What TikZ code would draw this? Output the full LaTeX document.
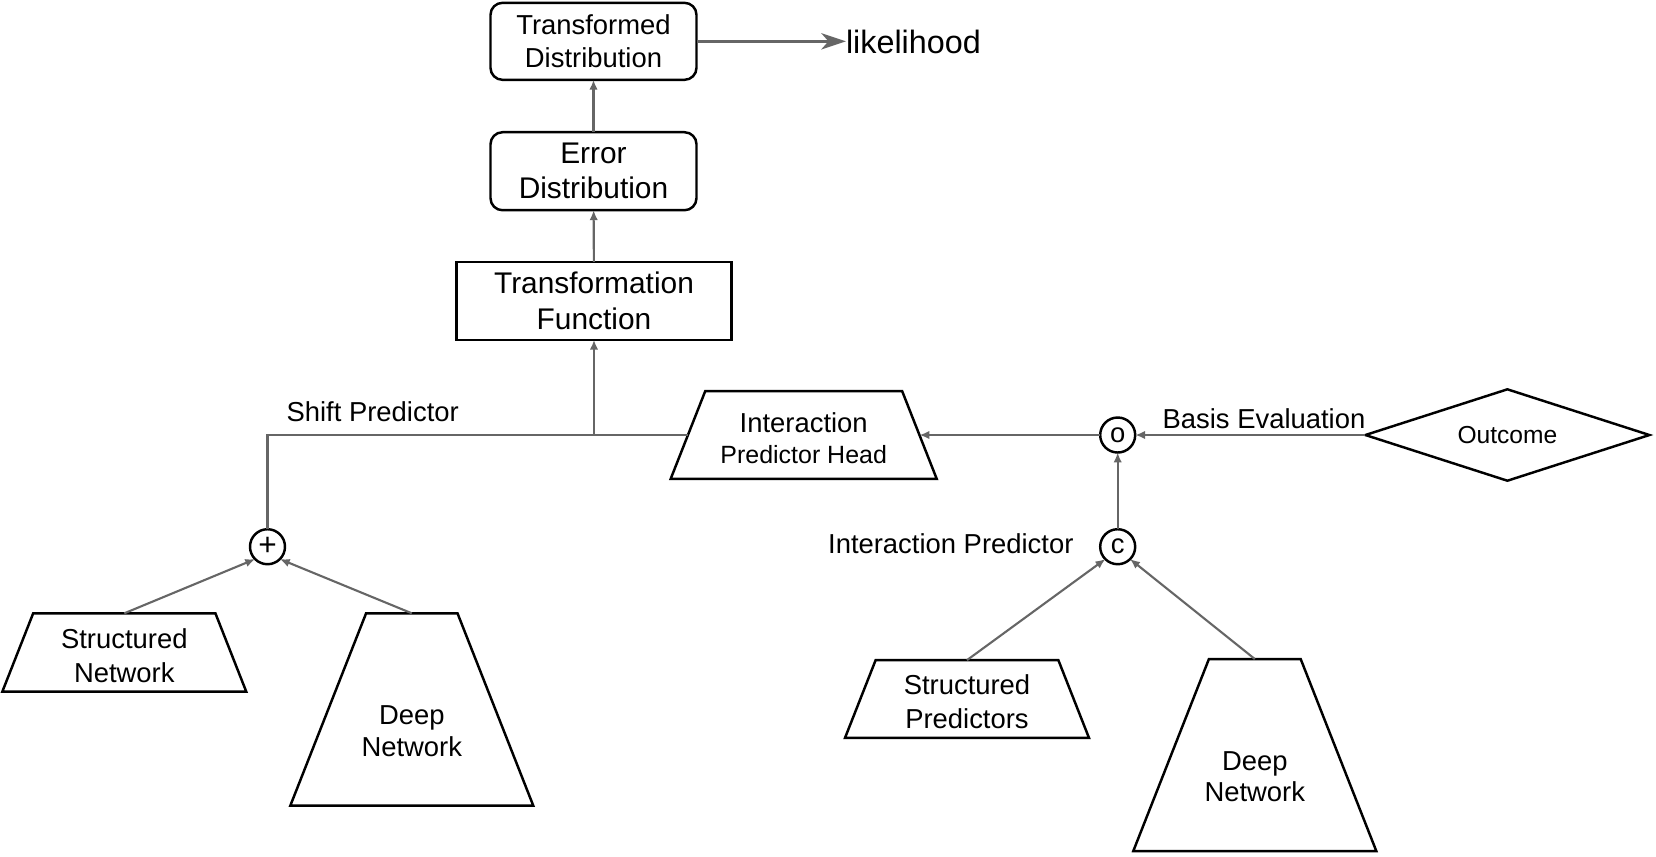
\documentclass[tikz,border=0pt]{standalone}
\usepackage{fontspec}
\setmainfont{Liberation Sans}
\usetikzlibrary{shapes.geometric, arrows.meta}
\definecolor{linegray}{HTML}{666666}
\begin{document}
\begin{tikzpicture}[font=\fontsize{7.8pt}{9.6pt}\selectfont, line join=miter,
    every node/.style={align=center, inner sep=0pt, outer sep=0pt},
    box/.style={draw, line width=0.7pt, minimum width=2.06cm, minimum height=0.77cm},
    trap/.style={draw, line width=0.7pt, trapezium, trapezium stretches body=true, trapezium angle=68.5, inner xsep=1pt, inner ysep=#1, minimum width=2.44cm},
    trap/.default=0.39cm,
    sym/.style={draw, circle, line width=0.7pt, minimum size=0.35cm},
    link/.style={draw=linegray, line width=0.6pt},
    conn/.style={link, -{Latex[length=2.8pt,width=2.4pt]}}]
        \useasboundingbox (0, 0) rectangle (16.56, -8.56);
        % upper chain
        \node[box, rounded corners=0.12cm] (td) at (5.935, -0.413) {Transformed\\Distribution};
        \node[box, rounded corners=0.12cm, minimum height=0.78cm, font=\fontsize{8.5pt}{10pt}\selectfont] (ed) at (5.935, -1.712) {Error\\Distribution};
        \node[box, minimum width=2.75cm, minimum height=0.78cm, font=\fontsize{8.5pt}{10.4pt}\selectfont] (tf) at (5.94, -3.008) {Transformation\\Function};
        \node[anchor=west, font=\fontsize{9.2pt}{11pt}\selectfont] (lik) at (8.46, -0.417) {likelihood};
        % predictors
        \node[trap=0.438cm, minimum width=2.66cm] (iph) at (8.037, -4.35) {};
        \node[font=\fontsize{7.8pt}{9pt}\selectfont] (iphtext) at ([yshift=-0.03cm]iph.center) {Interaction\\{\fontsize{7.1pt}{9pt}\selectfont Predictor Head}};
        \node[sym] (o) at (11.177, -4.35) {o};
        \node[sym] (c) at (11.177, -5.467) {c};
        \node[sym, font=\fontsize{9pt}{10pt}\selectfont] (plus) at (2.675, -5.467) {+};
        \node[draw, diamond, aspect=3.1, line width=0.7pt, minimum width=2.84cm, minimum height=0.914cm, font=\fontsize{7pt}{8.4pt}\selectfont] (outcome) at (15.074, -4.35) {Outcome};
        \node (shiftlbl) at (3.727, -4.117) {Shift Predictor};
        \node (basislbl) at (12.64, -4.183) {Basis Evaluation};
        \node (interlbl) at (9.508, -5.44) {Interaction Predictor};
        % networks
        \node[trap=0.392cm] (sn) at (1.243, -6.525) {};
        \node (sntext) at ([yshift=-0.03cm]sn.center) {Structured\\Network};
        \node[trap=0.962cm, minimum width=2.43cm] (dnl) at (4.118, -7.095) {};
        \node[font=\fontsize{7.8pt}{9pt}\selectfont] (dnltext) at ([yshift=-0.215cm]dnl.center) {Deep\\Network};
        \node[trap=0.389cm] (sp) at (9.67, -6.99) {};
        \node (sptext) at ([yshift=-0.03cm]sp.center) {Structured\\Predictors};
        \node[trap=0.96cm, minimum width=2.43cm] (dnr) at (12.548, -7.55) {};
        \node[font=\fontsize{7.8pt}{9pt}\selectfont] (dnrtext) at ([yshift=-0.215cm]dnr.center) {Deep\\Network};
        % connectors
        \coordinate (j) at (tf.south |- iph.west);
        \draw[conn] (tf) -- (ed);
        \draw[conn] (ed) -- (td);
        \draw[draw=linegray, line width=0.95pt, -{Stealth[length=7pt,width=4.6pt,inset=2pt]}] (td.east) -- (td.east -| lik.west);
        \draw[link] (plus.north) |- (iph.west);
        \draw[conn] (j) -- (tf.south);
        \draw[conn] (sn.north) -- (plus.-135);
        \draw[conn] (dnl.north) -- (plus.-45);
        \draw[conn] (sp.north) -- (c.-135);
        \draw[conn] (dnr.north) -- (c.-45);
        \draw[conn] (c) -- (o);
        \draw[conn] (o) -- (iph.east);
        \draw[conn] (outcome) -- (o);
    \end{tikzpicture}
\end{document}
